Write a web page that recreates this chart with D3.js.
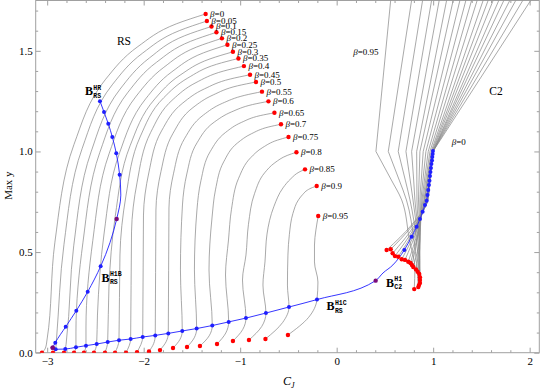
<!DOCTYPE html>
<html>
<head>
<meta charset="utf-8">
<script src="https://cdn.jsdelivr.net/npm/d3@7"></script>
<style>
body { margin: 0; background: #fff; }
svg { display: block; font-family: "Liberation Serif", "Times New Roman", serif; }
.frame line, .frame path { stroke: #a0a0a0; }
.frame text { fill: #000; font-size: 11px; font-family: "Liberation Serif", serif; }
</style>
</head>
<body>
<svg id="chart" width="540" height="390"></svg>
<script>
// ---- data ----
const betas = [0, 0.05, 0.1, 0.15, 0.2, 0.25, 0.3, 0.35, 0.4, 0.45, 0.5, 0.55, 0.6, 0.65, 0.7, 0.75, 0.8, 0.85, 0.9, 0.95];

// RS family, one curve per beta, from bottom end to top end
const rsCurves = [
  [[-3.054,0],[-3.018,0.023],[-3.002,0.063],[-2.920,0.549],[-2.722,1.035],[-2.394,1.359],[-2.060,1.521],[-1.662,1.634],[-1.358,1.683]],
  [[-2.940,0],[-2.912,0.017],[-2.904,0.063],[-2.826,0.538],[-2.638,1.014],[-2.326,1.331],[-2.010,1.489],[-1.632,1.600],[-1.345,1.648]],
  [[-2.826,0],[-2.812,0.018],[-2.800,0.063],[-2.725,0.531],[-2.545,0.998],[-2.244,1.310],[-1.939,1.465],[-1.575,1.575],[-1.297,1.621]],
  [[-2.722,0],[-2.702,0.027],[-2.702,0.103],[-2.629,0.549],[-2.454,0.996],[-2.163,1.294],[-1.867,1.443],[-1.515,1.547],[-1.246,1.592]],
  [[-2.619,0],[-2.598,0.035],[-2.598,0.128],[-2.527,0.558],[-2.359,0.988],[-2.077,1.275],[-1.791,1.418],[-1.450,1.519],[-1.189,1.562]],
  [[-2.515,0],[-2.487,0.043],[-2.479,0.187],[-2.411,0.590],[-2.250,0.993],[-1.980,1.261],[-1.707,1.396],[-1.380,1.490],[-1.132,1.530]],
  [[-2.401,0],[-2.373,0.053],[-2.360,0.326],[-2.295,0.677],[-2.141,1.028],[-1.884,1.261],[-1.623,1.379],[-1.312,1.460],[-1.075,1.495]],
  [[-2.297,0],[-2.256,0.062],[-2.246,0.485],[-2.184,0.778],[-2.037,1.072],[-1.792,1.267],[-1.542,1.365],[-1.245,1.433],[-1.018,1.462]],
  [[-2.183,0],[-2.135,0.068],[-2.126,0.600],[-2.068,0.847],[-1.928,1.094],[-1.695,1.259],[-1.458,1.342],[-1.176,1.399],[-0.961,1.424]],
  [[-2.069,0.003],[-2.010,0.078],[-2.002,0.684],[-1.947,0.893],[-1.815,1.102],[-1.594,1.241],[-1.370,1.311],[-1.103,1.360],[-0.898,1.381]],
  [[-1.945,0.006],[-1.896,0.046],[-1.880,0.086],[-1.873,0.709],[-1.821,0.900],[-1.696,1.090],[-1.489,1.218],[-1.279,1.281],[-1.028,1.326],[-0.836,1.345]],
  [[-1.831,0.013],[-1.767,0.055],[-1.745,0.096],[-1.738,0.719],[-1.690,0.892],[-1.574,1.066],[-1.381,1.181],[-1.185,1.239],[-0.952,1.279],[-0.774,1.297]],
  [[-1.696,0.023],[-1.624,0.066],[-1.600,0.108],[-1.619,0.411],[-1.598,0.734],[-1.553,0.888],[-1.447,1.043],[-1.268,1.146],[-1.087,1.197],[-0.872,1.233],[-0.707,1.249]],
  [[-1.551,0.028],[-1.476,0.074],[-1.451,0.120],[-1.474,0.411],[-1.448,0.709],[-1.407,0.854],[-1.311,0.999],[-1.150,1.095],[-0.988,1.144],[-0.793,1.178],[-0.645,1.192]],
  [[-1.417,0.033],[-1.321,0.084],[-1.289,0.135],[-1.323,0.411],[-1.292,0.669],[-1.256,0.809],[-1.171,0.948],[-1.028,1.042],[-0.883,1.088],[-0.710,1.121],[-0.577,1.135]],
  [[-1.240,0.043],[-1.149,0.098],[-1.119,0.153],[-1.152,0.386],[-1.121,0.560],[-1.090,0.713],[-1.016,0.867],[-0.891,0.969],[-0.765,1.020],[-0.615,1.056],[-0.499,1.072]],
  [[-1.075,0.058],[-0.974,0.115],[-0.940,0.172],[-0.976,0.361],[-0.940,0.485],[-0.914,0.638],[-0.851,0.791],[-0.746,0.894],[-0.640,0.944],[-0.513,0.980],[-0.417,0.996]],
  [[-0.909,0.063],[-0.777,0.130],[-0.733,0.197],[-0.764,0.336],[-0.743,0.451],[-0.722,0.589],[-0.650,0.727],[-0.556,0.819],[-0.474,0.865],[-0.391,0.897],[-0.328,0.911]],
  [[-0.738,0.068],[-0.560,0.150],[-0.494,0.227],[-0.510,0.336],[-0.505,0.485],[-0.490,0.588],[-0.454,0.691],[-0.395,0.760],[-0.350,0.787],[-0.303,0.808],[-0.249,0.821],[-0.207,0.828]],
  [[-0.505,0.088],[-0.290,0.176],[-0.204,0.264],[-0.194,0.351],[-0.230,0.451],[-0.230,0.535],[-0.215,0.610],[-0.191,0.679]]
];

// C2 family, one curve per beta: top edge, knee at y=1, then down to its end
const c2Curves = [
  [[2.013,1.752],[0.998,1.0],[0.967,0.858],[0.946,0.759],[0.775,0.634],[0.518,0.510]],
  [[1.931,1.752],[0.998,1.0],[0.967,0.858],[0.946,0.759],[0.792,0.636],[0.560,0.514]],
  [[1.858,1.752],[0.998,1.0],[0.964,0.858],[0.941,0.759],[0.797,0.626],[0.580,0.494]],
  [[1.796,1.752],[0.998,1.0],[0.961,0.858],[0.936,0.759],[0.803,0.619],[0.604,0.480]],
  [[1.734,1.752],[0.998,1.0],[0.958,0.858],[0.931,0.759],[0.813,0.617],[0.638,0.477]],
  [[1.682,1.752],[0.998,1.0],[0.954,0.858],[0.925,0.759],[0.825,0.611],[0.674,0.464]],
  [[1.623,1.752],[0.993,1.0],[0.946,0.858],[0.915,0.759],[0.832,0.610],[0.708,0.461]],
  [[1.571,1.752],[0.988,1.0],[0.941,0.858],[0.910,0.759],[0.842,0.605],[0.742,0.452]],
  [[1.519,1.752],[0.980,1.0],[0.935,0.858],[0.905,0.759],[0.849,0.602],[0.765,0.446]],
  [[1.457,1.752],[0.967,1.0],[0.923,0.858],[0.894,0.759],[0.849,0.597],[0.780,0.436]],
  [[1.399,1.752],[0.949,1.0],[0.910,0.858],[0.884,0.759],[0.858,0.560],[0.794,0.426]],
  [[1.340,1.752],[0.925,1.0],[0.894,0.858],[0.874,0.759],[0.863,0.560],[0.822,0.414]],
  [[1.278,1.752],[0.897,1.0],[0.877,0.858],[0.863,0.759],[0.863,0.560],[0.839,0.402]],
  [[1.208,1.752],[0.863,1.0],[0.854,0.858],[0.848,0.759],[0.863,0.560],[0.856,0.391]],
  [[1.140,1.752],[0.829,1.0],[0.831,0.858],[0.832,0.759],[0.858,0.560],[0.863,0.375]],
  [[1.063,1.752],[0.777,1.0],[0.798,0.858],[0.811,0.759],[0.853,0.560],[0.863,0.361]],
  [[0.984,1.752],[0.718,1.0],[0.762,0.858],[0.791,0.759],[0.842,0.560],[0.863,0.346]],
  [[0.891,1.752],[0.638,1.0],[0.711,0.858],[0.760,0.759],[0.827,0.560],[0.853,0.336]],
  [[0.777,1.752],[0.535,1.0],[0.648,0.858],[0.723,0.759],[0.801,0.560],[0.846,0.326]],
  [[0.560,1.752],[0.407,1.0],[0.567,0.858],[0.674,0.759],[0.754,0.560],[0.811,0.421],[0.804,0.316]]
];

// bifurcation curves; third field: 'b' blue dot, 'p' purple dot, '' no dot
const h1cLine = [
  [-2.943,0.025,'p'],[-2.912,0.017,'b'],[-2.812,0.018,'b'],[-2.702,0.027,'b'],[-2.598,0.035,'b'],
  [-2.487,0.043,'b'],[-2.373,0.053,'b'],[-2.256,0.062,'b'],[-2.135,0.068,'b'],[-2.010,0.078,'b'],
  [-1.880,0.086,'b'],[-1.745,0.096,'b'],[-1.600,0.108,'b'],[-1.451,0.120,'b'],[-1.289,0.135,'b'],
  [-1.119,0.153,'b'],[-0.940,0.172,'b'],[-0.733,0.197,'b'],[-0.494,0.227,'b'],[-0.204,0.264,'b'],
  [0.404,0.358,'p'],[0.480,0.396,''],[0.583,0.436,''],
  [0.701,0.510,'b'],[0.777,0.576,'b'],[0.829,0.626,'b'],[0.863,0.664,'b'],[0.891,0.700,'b'],
  [0.915,0.734,'b'],[0.933,0.755,'b'],[0.941,0.783,'b'],[0.949,0.808,'b'],[0.956,0.833,'b'],
  [0.962,0.855,'b'],[0.967,0.878,'b'],[0.972,0.898,'b'],[0.977,0.918,'b'],[0.982,0.937,'b'],
  [0.988,0.955,'b'],[0.991,0.972,'b'],[0.995,0.987,'b'],[0.998,1.002,'b']
];
const h1bLine = [
  [-2.943,0.025,'p'],[-2.916,0.050,'b'],[-2.808,0.129,'b'],[-2.698,0.209,'b'],[-2.580,0.303,'b'],
  [-2.446,0.429,'b'],[-2.280,0.664,'p'],[-2.237,0.783,''],[-2.249,0.884,'b'],[-2.284,0.991,'b'],
  [-2.325,1.072,'b'],[-2.367,1.138,'b'],[-2.411,1.196,'b'],[-2.453,1.250,'b']
];

const xTicks = [-3, -2, -1, 0, 1, 2];
const yTicks = [0, 0.5, 1, 1.5];

// text labels placed in data coordinates
const regionLabels = [
  {text: "RS", x: -2.277, y: 1.529},
  {text: "C2", x: 1.581, y: 1.280}
];
const c2BetaLabels = [
  {beta: 0.95, x: 0.172, y: 1.479},
  {beta: 0, x: 1.192, y: 1.032}
];
const branchLabels = [
  {sup: "HR", sub: "RS", x: -2.608, y: 1.280},
  {sup: "H1B", sub: "RS", x: -2.436, y: 0.353},
  {sup: "H1C", sub: "RS", x: -0.104, y: 0.212},
  {sup: "H1", sub: "C2", x: 0.511, y: 0.328}
];

// ---- drawing ----
const margin = {top: 0.5, right: 0.7, bottom: 37.3, left: 35.7};
const width = 540 - margin.left - margin.right;
const height = 390 - margin.top - margin.bottom;

const svg = d3.select("#chart");
const g = svg.append("g").attr("transform", `translate(${margin.left},${margin.top})`);

const x = d3.scaleLinear().domain([-3.119, 2.1]).range([0, width]);
const y = d3.scaleLinear().domain([0, 1.75]).range([height, 0]);

svg.append("defs").append("clipPath").attr("id", "clip")
  .append("rect").attr("width", width).attr("height", height);

// frame with inward ticks on all four sides
const minorX = d3.range(-30, 21, 2).map(d => d / 10).filter(d => !xTicks.includes(d));
const minorY = d3.range(0, 18).map(d => d / 10).filter(d => !yTicks.includes(d));
const fmtX = d => d < 0 ? "\u2212" + Math.abs(d) : String(d);
const fmtY = d3.format(".1f");

const frame = g.append("g").attr("class", "frame");
frame.append("g").attr("transform", `translate(0,${height})`)
  .call(d3.axisBottom(x).tickValues(xTicks).tickFormat(fmtX).tickSize(-5).tickSizeOuter(0).tickPadding(5));
frame.append("g").attr("transform", `translate(0,${height})`)
  .call(d3.axisBottom(x).tickValues(minorX).tickFormat("").tickSize(-2.5).tickSizeOuter(0));
frame.append("g")
  .call(d3.axisTop(x).tickValues(xTicks).tickFormat("").tickSize(-5).tickSizeOuter(0));
frame.append("g")
  .call(d3.axisTop(x).tickValues(minorX).tickFormat("").tickSize(-2.5).tickSizeOuter(0));
frame.append("g")
  .call(d3.axisLeft(y).tickValues(yTicks).tickFormat(fmtY).tickSize(-5).tickSizeOuter(0).tickPadding(3));
frame.append("g")
  .call(d3.axisLeft(y).tickValues(minorY).tickFormat("").tickSize(-2.5).tickSizeOuter(0));
frame.append("g").attr("transform", `translate(${width},0)`)
  .call(d3.axisRight(y).tickValues(yTicks).tickFormat("").tickSize(-5).tickSizeOuter(0));
frame.append("g").attr("transform", `translate(${width},0)`)
  .call(d3.axisRight(y).tickValues(minorY).tickFormat("").tickSize(-2.5).tickSizeOuter(0));
frame.selectAll(".domain").remove();
frame.append("rect").attr("width", width).attr("height", height)
  .attr("fill", "none").attr("stroke", "#a0a0a0").attr("stroke-width", 1);

// axis titles
const cj = g.append("text").attr("x", x(-0.556)).attr("y", height + 32.5)
  .attr("font-size", 12).attr("font-style", "italic");
cj.append("tspan").text("C");
cj.append("tspan").attr("font-size", 8).attr("dy", 3).text("J");
g.append("text").attr("transform", `translate(${-23.5},${y(0.83)}) rotate(-90)`)
  .attr("text-anchor", "middle").attr("font-size", 11).text("Max y");

const plot = g.append("g").attr("clip-path", "url(#clip)");

const lineY = d3.line().x(d => x(d[0])).y(d => y(d[1])).curve(d3.curveMonotoneY);
const lineX = d3.line().x(d => x(d[0])).y(d => y(d[1])).curve(d3.curveMonotoneX);
const lineL = d3.line().x(d => x(d[0])).y(d => y(d[1]));

const gray = "#8c8c8c";
plot.selectAll("path.rs").data(rsCurves).join("path").attr("class", "rs")
  .attr("d", lineY).attr("fill", "none").attr("stroke", gray).attr("stroke-width", 0.75);
plot.selectAll("path.c2a").data(c2Curves).join("path").attr("class", "c2a")
  .attr("d", c => lineL(c.slice(0, 2))).attr("fill", "none").attr("stroke", gray).attr("stroke-width", 0.75);
plot.selectAll("path.c2b").data(c2Curves).join("path").attr("class", "c2b")
  .attr("d", c => lineY(c.slice(1))).attr("fill", "none").attr("stroke", gray).attr("stroke-width", 0.75);

const blue = "#1f1fff";
plot.append("path").datum(h1cLine).attr("d", lineX)
  .attr("fill", "none").attr("stroke", blue).attr("stroke-width", 0.9);
plot.append("path").datum(h1bLine).attr("d", lineY)
  .attr("fill", "none").attr("stroke", blue).attr("stroke-width", 0.9);

// dots
const redDots = rsCurves.flatMap(c => [c[0], c[c.length - 1]]).concat(c2Curves.map(c => c[c.length - 1]));
plot.selectAll("circle.red").data(redDots).join("circle").attr("class", "red")
  .attr("cx", d => x(d[0])).attr("cy", d => y(d[1])).attr("r", 2.2).attr("fill", "#ff0000");
const bifNodes = h1cLine.concat(h1bLine);
plot.selectAll("circle.blue").data(bifNodes.filter(d => d[2] === "b")).join("circle").attr("class", "blue")
  .attr("cx", d => x(d[0])).attr("cy", d => y(d[1])).attr("r", 2).attr("fill", blue);
plot.selectAll("circle.purple").data(bifNodes.filter(d => d[2] === "p")).join("circle").attr("class", "purple")
  .attr("cx", d => x(d[0])).attr("cy", d => y(d[1])).attr("r", 2.2).attr("fill", "#7a0a7a");

// labels
const betaText = (sel, b) => {
  sel.append("tspan").attr("font-style", "italic").text("\u03b2");
  sel.append("tspan").text("=" + b);
};
rsCurves.forEach((c, i) => {
  const e = c[c.length - 1];
  const t = g.append("text").attr("x", x(e[0]) + 4.5).attr("y", y(e[1]) + 3).attr("font-size", 9);
  betaText(t, betas[i]);
});
c2BetaLabels.forEach(d => {
  const t = g.append("text").attr("x", x(d.x)).attr("y", y(d.y)).attr("font-size", 9);
  betaText(t, d.beta);
});
regionLabels.forEach(d => {
  g.append("text").attr("x", x(d.x)).attr("y", y(d.y)).attr("font-size", 11.5).text(d.text);
});
branchLabels.forEach(d => {
  const bx = x(d.x), by = y(d.y);
  g.append("text").attr("x", bx).attr("y", by).attr("font-size", 12).attr("font-weight", "bold").text("B");
  g.append("text").attr("x", bx + 8.3).attr("y", by - 5.5).attr("font-size", 6.5).attr("font-weight", "bold")
    .attr("font-family", "'Liberation Mono', monospace").text(d.sup);
  g.append("text").attr("x", bx + 8.3).attr("y", by + 2.5).attr("font-size", 6.5).attr("font-weight", "bold")
    .attr("font-family", "'Liberation Mono', monospace").text(d.sub);
});
</script>
</body>
</html>
